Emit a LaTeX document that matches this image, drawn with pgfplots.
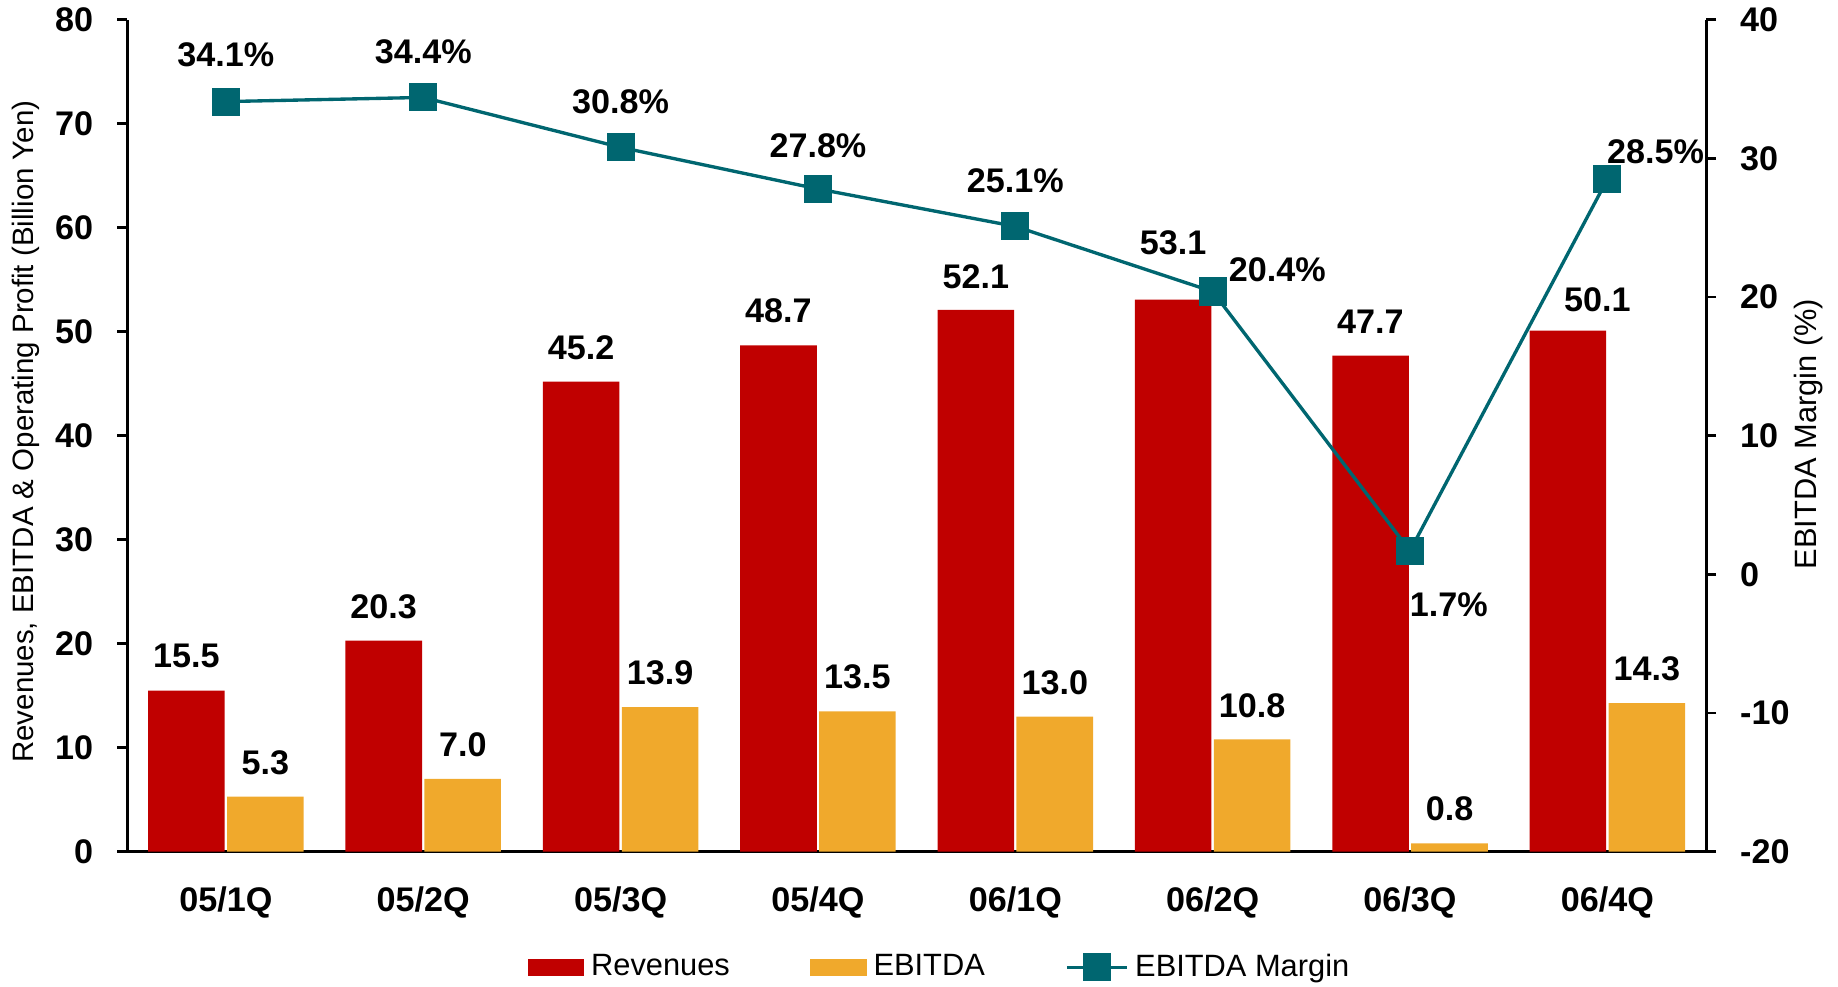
\documentclass[border=0pt]{standalone}
\usepackage{pgfplots}
\pgfplotsset{compat=1.18}
\usepackage{pgfplotstable}
\usepackage{fontspec}
\setmainfont{Liberation Sans}
\definecolor{barred}{HTML}{C00000}
\definecolor{baryel}{HTML}{F0A92C}
\definecolor{lineteal}{HTML}{006670}

\pgfplotstableread{
x rev revlab revdx revdy ebit ebitlab ebitdy
0 15.5 15.5 -11.8 10.2 5.3 5.3 10.2
1 20.3 20.3 -11.8 10.2 7.0 7.0 10.2
2 45.2 45.2 -11.8 10.2 13.9 13.9 10.2
3 48.7 48.7 -11.8 10.2 13.5 13.5 10.2
4 52.1 52.1 -11.8 10.0 13.0 13.0 10.2
5 53.1 53.1 -11.8 16.9 10.8 10.8 10.2
6 47.7 47.7 -11.8 10.2 0.8 0.8 10.2
7 50.1 50.1 -3.0 9.2 14.3 14.3 10.2
}\bars

\pgfplotstableread{
x m mlab dx dy
0 34.1 34.1 0 13.9
1 34.4 34.4 0 13.7
2 30.8 30.8 0 13.5
3 27.8 27.8 0 13.0
4 25.1 25.1 0 13.7
5 20.4 20.4 19.3 6.5
6 1.7 1.7 11.6 -16.0
7 28.5 28.5 14.4 8.2
}\margin

\newcommand{\lblfont}{\bfseries\fontsize{10.2}{12}\selectfont}

\begin{document}
\begin{tikzpicture}
\path[use as bounding box] (-37.98pt,-40.39pt) rectangle (510.8pt,254.3pt);
\begin{axis}[
  at={(0pt,0pt)}, anchor=south west, scale only axis,
  width=471.4pt, height=248.4pt,
  xmin=-0.5, xmax=7.5, ymin=0, ymax=80,
  axis x line*=bottom, axis y line*=left,
  axis line style={-, line width=0.9pt, black},
  xtick={0,...,7},
  xticklabels={05/1Q,05/2Q,05/3Q,05/4Q,06/1Q,06/2Q,06/3Q,06/4Q},
  xtick style={draw=none},
  xticklabel style={anchor=center, inner sep=0pt, yshift=-12.1pt},
  ytick={0,10,...,80},
  yticklabels={0,10,20,30,40,50,60,70,80},
  tick align=outside, major tick length=3pt,
  ytick style={line width=0.8pt, black},
  yticklabel style={anchor=east, inner sep=0pt, xshift=-7pt},
  ticklabel style={font=\lblfont},
  ylabel={Revenues, EBITDA \& Operating Profit (Billion Yen)},
  ylabel style={font=\fontsize{8.8}{10}\selectfont, at={(axis description cs:-0.0642,0.505)}, anchor=center},
]
\addplot[ybar, bar width=0.388, bar shift=-0.2, fill=barred, draw=none,
  point meta=explicit symbolic, nodes near coords,
  visualization depends on={\thisrow{revdx}\as\dxv},
  visualization depends on={\thisrow{revdy}\as\dyv},
  nodes near coords style={anchor=center, inner sep=0pt, xshift=\dxv pt, yshift=\dyv pt, text=black, font=\lblfont}]
  table[x=x, y=rev, meta=revlab]{\bars};
\addplot[ybar, bar width=0.388, bar shift=0.2, fill=baryel, draw=none,
  point meta=explicit symbolic, nodes near coords,
  visualization depends on={\thisrow{ebitdy}\as\dyv},
  nodes near coords style={anchor=center, inner sep=0pt, xshift=11.8pt, yshift=\dyv pt, text=black, font=\lblfont}]
  table[x=x, y=ebit, meta=ebitlab]{\bars};
\end{axis}

\begin{axis}[
  at={(0pt,0pt)}, anchor=south west, scale only axis,
  width=471.4pt, height=248.4pt,
  xmin=-0.5, xmax=7.5, ymin=-20, ymax=40,
  axis x line=none, axis y line*=right,
  axis line style={-, line width=0.9pt, black},
  ytick={-20,-10,...,40},
  yticklabels={-20,-10,0,10,20,30,40},
  tick align=outside, major tick length=3pt,
  ytick style={line width=0.8pt, black},
  yticklabel style={anchor=west, inner sep=0pt, xshift=7pt},
  ticklabel style={font=\lblfont},
  ylabel={EBITDA Margin (\%)},
  ylabel style={font=\fontsize{9.2}{11}\selectfont, at={(axis description cs:1.065,0.502)}, anchor=center},
  legend style={at={(axis description cs:0.516,-0.139)}, anchor=center, draw=none, fill=none,
    font=\fontsize{9.2}{11}\selectfont, legend columns=3,
    /tikz/every even column/.append style={column sep=22pt}},
]
\addlegendimage{legend image code/.code={\fill[barred] (0pt,-2.4pt) rectangle (16.5pt,2.4pt);}}
\addlegendentry{Revenues}
\addlegendimage{legend image code/.code={\fill[baryel] (0pt,-2.4pt) rectangle (16.5pt,2.4pt);}}
\addlegendentry{EBITDA}
\addplot[lineteal, line width=1pt, mark=square*, mark size=3.7pt, mark options={solid, fill=lineteal},
  legend image code/.code={\draw[lineteal, line width=1pt] (0pt,0pt) -- (17.9pt,0pt);
     \fill[lineteal] (5.25pt,-3.7pt) rectangle (12.65pt,3.7pt);},
  point meta=explicit symbolic,
  nodes near coords={\pgfplotspointmeta\%},
  visualization depends on={\thisrow{dx}\as\dxv},
  visualization depends on={\thisrow{dy}\as\dyv},
  nodes near coords style={anchor=center, inner sep=0pt, xshift=\dxv pt, yshift=\dyv pt, text=black, font=\lblfont}]
  table[x=x, y=m, meta=mlab]{\margin};
\addlegendentry{EBITDA Margin}
\end{axis}
\end{tikzpicture}
\end{document}
